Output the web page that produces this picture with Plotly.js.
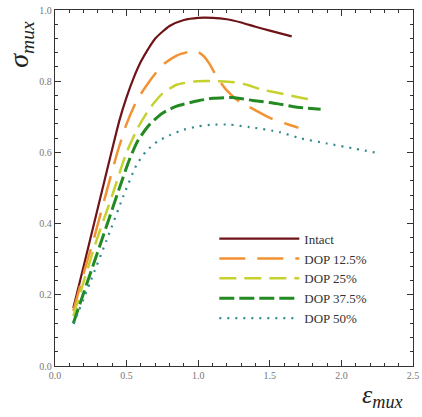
<!DOCTYPE html>
<html>
<head>
<meta charset="utf-8">
<script src="https://cdn.plot.ly/plotly-3.0.1.min.js"></script>
<style>html,body{margin:0;padding:0;background:#fff;}#chart{width:422px;height:417px;}</style>
</head>
<body>
<div id="chart"></div>
<script>
const seriesNames = ["Intact", "DOP 12.5%", "DOP 25%", "DOP 37.5%", "DOP 50%"];

const intactX = [0.128,0.2,0.3,0.4,0.45,0.5,0.55,0.6,0.65,0.7,0.8,0.9,1.0,1.1,1.2,1.3,1.4,1.5,1.653];
const intactY = [0.163,0.28,0.445,0.61,0.69,0.755,0.81,0.855,0.89,0.92,0.955,0.972,0.978,0.978,0.974,0.965,0.953,0.942,0.926];

const dop125X = [0.128,0.2,0.28,0.36,0.44,0.5,0.57,0.66,0.75,0.85,0.95,1.0,1.04,1.08,1.13,1.2,1.27,1.36,1.5,1.64,1.70];
const dop125Y = [0.155,0.26,0.37,0.49,0.606,0.68,0.745,0.80,0.845,0.872,0.884,0.882,0.87,0.848,0.812,0.774,0.748,0.727,0.697,0.677,0.669];

const dop25X = [0.128,0.21,0.29,0.40,0.5,0.58,0.66,0.75,0.85,0.99,1.15,1.25,1.34,1.43,1.57,1.7,1.82];
const dop25Y = [0.14,0.25,0.353,0.48,0.6,0.67,0.723,0.765,0.79,0.80,0.80,0.797,0.79,0.778,0.766,0.755,0.746];

const dop375X = [0.128,0.2,0.326,0.45,0.52,0.58,0.66,0.75,0.85,1.0,1.1,1.24,1.38,1.55,1.69,1.855];
const dop375Y = [0.12,0.205,0.353,0.5,0.58,0.634,0.678,0.71,0.73,0.745,0.752,0.754,0.746,0.737,0.727,0.721];

const dop50X = [0.13,0.25,0.36,0.49,0.57,0.64,0.72,0.8,0.9,1.0,1.1,1.22,1.36,1.57,1.71,1.9,2.1,2.27];
const dop50Y = [0.118,0.24,0.353,0.49,0.565,0.605,0.632,0.648,0.664,0.673,0.678,0.678,0.671,0.657,0.64,0.625,0.61,0.597];

const xTickVals = [0, 0.5, 1.0, 1.5, 2.0, 2.5];
const xTickText = ["0.0", "0.5", "1.0", "1.5", "2.0", "2.5"];
const yTickVals = [0, 0.2, 0.4, 0.6, 0.8, 1.0];
const yTickText = ["0.0", "0.2", "0.4", "0.6", "0.8", "1.0"];

const xs = [intactX, dop125X, dop25X, dop375X, dop50X];
const ys = [intactY, dop125Y, dop25Y, dop375Y, dop50Y];
const styles = [
  {color: "#6e1418", width: 2.2, dash: "solid"},
  {color: "#f29233", width: 2.5, dash: "26px,12px"},
  {color: "#c6d12e", width: 2.5, dash: "17px,8px"},
  {color: "#238a22", width: 3, dash: "15px,5px"},
  {color: "#33898f", width: 2.2, dash: "2px,6px"}
];

const traces = seriesNames.map((n, i) => ({
  x: xs[i], y: ys[i], name: n, type: "scatter", mode: "lines",
  line: {color: styles[i].color, width: styles[i].width, dash: styles[i].dash, shape: "spline", smoothing: 0.6}
}));

const axisCommon = {
  showline: true, linecolor: "#333", linewidth: 1.2, mirror: "ticks",
  ticks: "inside", ticklen: 6, tickcolor: "#333", tickwidth: 1,
  showgrid: false, zeroline: false,
  tickfont: {family: "Liberation Serif, serif", size: 10, color: "#777"}
};

const layout = {
  width: 422, height: 417,
  margin: {l: 55, r: 9, t: 10, b: 51},
  paper_bgcolor: "#fff", plot_bgcolor: "#fff",
  showlegend: true,
  legend: {
    x: 0.445, y: 0.40, xanchor: "left", yanchor: "top",
    font: {family: "Liberation Serif, serif", size: 13, color: "#333"},
    bgcolor: "rgba(0,0,0,0)", itemwidth: 80, tracegroupgap: 0
  },
  xaxis: Object.assign({}, axisCommon, {
    range: [0, 2.5], tickvals: xTickVals, ticktext: xTickText,
    minor: {dtick: 0.1, ticks: "inside", ticklen: 3, tickcolor: "#333"}
  }),
  yaxis: Object.assign({}, axisCommon, {
    range: [0, 1.0], tickvals: yTickVals, ticktext: yTickText,
    minor: {dtick: 0.04, ticks: "inside", ticklen: 3, tickcolor: "#333"}
  }),
  annotations: [
    {text: "<i>σ<sub>mux</sub></i>", xref: "paper", yref: "paper", x: -0.095, y: 0.905,
     xanchor: "center", yanchor: "middle", textangle: -90, showarrow: false,
     font: {family: "Liberation Serif, serif", size: 28, color: "#222"}},
    {text: "<i>ε<sub>mux</sub></i>", xref: "paper", yref: "paper", x: 0.915, y: -0.085,
     xanchor: "center", yanchor: "middle", showarrow: false,
     font: {family: "Liberation Serif, serif", size: 26, color: "#222"}}
  ]
};

Plotly.newPlot("chart", traces, layout, {displayModeBar: false, staticPlot: true});
</script>
</body>
</html>
